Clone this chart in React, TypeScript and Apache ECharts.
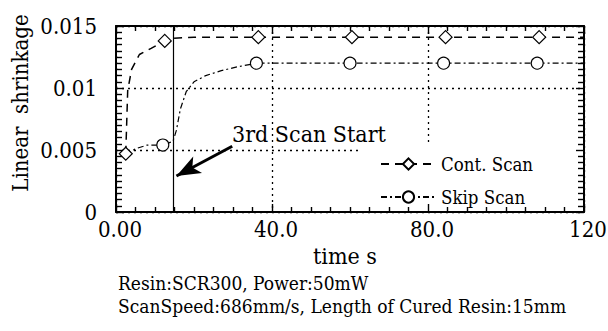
import React, { useEffect, useRef } from 'react';
import * as echarts from 'echarts';

// ---- data ----
const xTickValues = [0, 40, 80, 120];
const xTickLabels = ['0.00', '40.0', '80.0', '120'];

const contTime = [2.5, 3, 4, 6, 9, 12.5, 14.6, 20, 36.5, 60.5, 84.5, 108.5, 120];
const contValue = [0.0047, 0.0098, 0.0115, 0.0127, 0.0132, 0.0138, 0.014, 0.0141, 0.0141, 0.0141, 0.0141, 0.0141, 0.0141];
const contMarked = [1, 0, 0, 0, 0, 1, 0, 0, 1, 1, 1, 1, 0];

const skipTime = [2.5, 5, 8, 12, 14.6, 15.5, 16.5, 18, 20, 23, 27, 31, 36, 60, 84, 108, 120];
const skipValue = [0.0046, 0.0051, 0.0054, 0.0054, 0.0057, 0.0066, 0.0083, 0.0097, 0.0105, 0.011, 0.0114, 0.0117, 0.012, 0.012, 0.012, 0.012, 0.012];
const skipMarked = [0, 0, 0, 1, 0, 0, 0, 0, 0, 0, 0, 0, 1, 1, 1, 1, 0];

const seriesNames = ['Cont. Scan', 'Skip Scan'];
const scanStartTime = 14.6;
const arrowFrom = [29.8, 0.0053];
const arrowTo = [15.5, 0.0029];
const annotationText = '3rd Scan Start';
const yTitle = 'Linear  shrinkage';
const xTitle = 'time s';
const noteLines = [
  'Resin:SCR300, Power:50mW',
  'ScanSpeed:686mm/s, Length of Cured Resin:15mm',
];

const SERIF = '"DejaVu Serif Condensed", "DejaVu Serif"';

export default function App() {
  const ref = useRef<HTMLDivElement>(null);

  useEffect(() => {
    const chart = echarts.init(ref.current!, null, { renderer: 'svg' });

    const toData = (t: number[], v: number[], m: number[], sym: string) =>
      t.map((x, i) => ({ value: [x, v[i]], symbol: m[i] ? sym : 'none' }));

    const tickStyle = { color: '#000', width: 1.4 };
    const gridLine = { show: true, lineStyle: { color: '#000', width: 1.3, type: [2, 4] } };

    chart.setOption({
      animation: false,
      backgroundColor: '#fff',
      textStyle: { fontFamily: SERIF, color: '#000' },
      grid: { left: 116, right: 24, top: 26, bottom: 119, containLabel: false, outerBoundsMode: 'none' },
      xAxis: [
        {
          type: 'value', position: 'bottom', min: 0, max: 120, interval: 40, z: 3,
          axisLine: { show: true, onZero: false, lineStyle: { color: '#000', width: 2 } },
          axisTick: { show: true, inside: true, length: 8, lineStyle: tickStyle },
          minorTick: { show: true, splitNumber: 8, length: 5, lineStyle: tickStyle },
          splitLine: { show: false },
          axisLabel: {
            fontSize: 22, fontFamily: SERIF, color: '#000', margin: 6, padding: [0, 0, 0, 8],
            formatter: (v: number) => xTickLabels[xTickValues.indexOf(v)] ?? String(v),
          },
          name: xTitle, nameLocation: 'middle', nameGap: 28,
          nameTextStyle: { fontSize: 23, fontFamily: SERIF, color: '#000', padding: [0, 10, 0, 0] },
        },
        {
          type: 'value', position: 'top', min: 0, max: 120, interval: 40, z: 0,
          axisLine: { show: true, onZero: false, lineStyle: { color: '#000', width: 2 } },
          axisTick: { show: true, inside: true, length: 8, lineStyle: tickStyle },
          minorTick: { show: true, splitNumber: 8, length: 5, lineStyle: tickStyle },
          splitLine: gridLine,
          axisLabel: { show: false },
        },
      ],
      yAxis: [
        {
          type: 'value', position: 'left', min: 0, max: 0.015, interval: 0.005, z: 0,
          axisLine: { show: true, onZero: false, lineStyle: { color: '#000', width: 2 } },
          axisTick: { show: true, inside: true, length: 8, lineStyle: tickStyle },
          minorTick: { show: true, splitNumber: 10, length: 6, lineStyle: tickStyle },
          splitLine: gridLine,
          axisLabel: { fontSize: 22, fontFamily: SERIF, color: '#000', margin: 19, padding: [0, 0, 10, 0] },
        },
        {
          type: 'value', position: 'right', min: 0, max: 0.015, interval: 0.005, z: 3,
          axisLine: { show: true, onZero: false, lineStyle: { color: '#000', width: 2 } },
          axisTick: { show: true, inside: true, length: 8, lineStyle: tickStyle },
          minorTick: { show: true, splitNumber: 10, length: 6, lineStyle: tickStyle },
          splitLine: { show: false },
          axisLabel: { show: false },
        },
      ],
      legend: {
        orient: 'vertical', left: 375, top: 148, itemWidth: 55, itemHeight: 14, itemGap: 11,
        textStyle: { fontSize: 18.5, fontFamily: SERIF, color: '#000', lineHeight: 22 },
        data: seriesNames,
      },
      graphic: [
        { type: 'rect', z: 1, shape: { x: 362, y: 143, width: 220, height: 68 }, style: { fill: '#fff' } },
        {
          type: 'text', z: 5, x: 232, y: 134,
          style: { text: annotationText, fontSize: 23, fontFamily: SERIF, fill: '#000', textAlign: 'left', textVerticalAlign: 'middle' },
        },
        {
          type: 'text', z: 5, x: 20, y: 103, rotation: Math.PI / 2,
          style: { text: yTitle, fontSize: 22, fontFamily: SERIF, fill: '#000', textAlign: 'center', textVerticalAlign: 'middle' },
        },
        {
          type: 'text', z: 5, x: 118, y: 283,
          style: { text: noteLines[0], fontSize: 19, fontFamily: SERIF, fill: '#000', textAlign: 'left', textVerticalAlign: 'middle' },
        },
        {
          type: 'text', z: 5, x: 118, y: 306,
          style: { text: noteLines[1], fontSize: 19, fontFamily: SERIF, fill: '#000', textAlign: 'left', textVerticalAlign: 'middle' },
        },
      ],
      series: [
        {
          name: seriesNames[0], type: 'line', xAxisIndex: 0, yAxisIndex: 0, z: 2,
          symbol: 'diamond', symbolSize: 13, showAllSymbol: true,
          lineStyle: { color: '#000', width: 1.5, type: [8, 6] },
          itemStyle: { color: '#fff', borderColor: '#000', borderWidth: 1.2 },
          data: toData(contTime, contValue, contMarked, 'diamond'),
          markLine: {
            silent: true, symbol: ['none', 'none'],
            label: { show: false },
            data: [
              { xAxis: scanStartTime, lineStyle: { color: '#000', width: 1.2, type: 'solid' } },
              [
                { coord: arrowFrom, symbol: 'none', lineStyle: { color: '#000', width: 3, type: 'solid' } },
                { coord: arrowTo, symbol: 'arrow', symbolSize: [14, 24] },
              ],
            ],
          },
        },
        {
          name: seriesNames[1], type: 'line', xAxisIndex: 0, yAxisIndex: 0, z: 2,
          symbol: 'circle', symbolSize: 12, showAllSymbol: true,
          lineStyle: { color: '#000', width: 1.2, type: [6, 3, 2, 3] },
          itemStyle: { color: '#fff', borderColor: '#000', borderWidth: 1.1 },
          data: toData(skipTime, skipValue, skipMarked, 'circle'),
        },
      ],
    });

    return () => chart.dispose();
  }, []);

  return (
    <div
      ref={ref}
      style={{ position: 'fixed', left: 0, top: 0, width: 608, height: 331, background: '#fff' }}
    />
  );
}
